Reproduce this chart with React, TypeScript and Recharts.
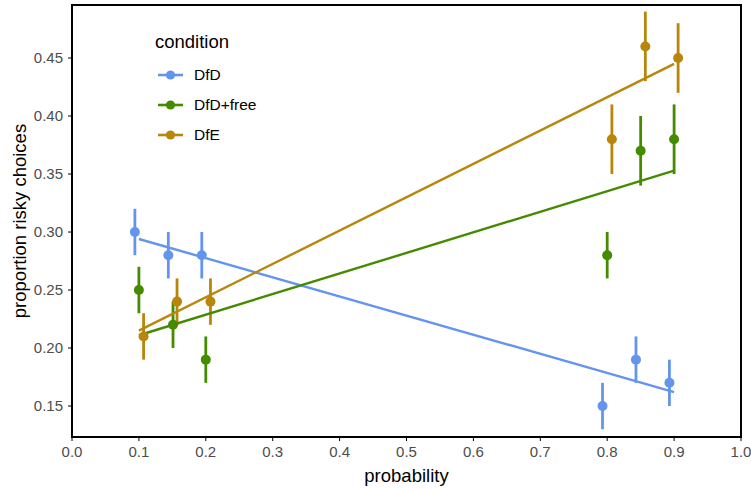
import {
  ComposedChart,
  ErrorBar,
  ReferenceArea,
  Scatter,
  XAxis,
  YAxis,
} from "recharts";

// Points (x jittered as in the original), proportion and half-width of error bars
const dfdX = [0.094, 0.144, 0.194, 0.793, 0.843, 0.893];
const dfdY = [0.3, 0.28, 0.28, 0.15, 0.19, 0.17];
const dfdErr = [0.02, 0.02, 0.02, 0.02, 0.02, 0.02];

const freeX = [0.1, 0.151, 0.2, 0.8, 0.85, 0.9];
const freeY = [0.25, 0.22, 0.19, 0.28, 0.37, 0.38];
const freeErr = [0.02, 0.02, 0.02, 0.02, 0.03, 0.03];

const dfeX = [0.107, 0.157, 0.207, 0.807, 0.857, 0.906];
const dfeY = [0.21, 0.24, 0.24, 0.38, 0.46, 0.45];
const dfeErr = [0.02, 0.02, 0.02, 0.03, 0.03, 0.03];

// Linear fit endpoints
const fitX = [0.1, 0.9];
const dfdFitY = [0.294, 0.162];
const freeFitY = [0.211, 0.353];
const dfeFitY = [0.215, 0.445];

const conditions = ["DfD", "DfD+free", "DfE"];
const colors = ["#6495ED", "#458B00", "#B8860B"];

const xTicks = [0, 0.1, 0.2, 0.3, 0.4, 0.5, 0.6, 0.7, 0.8, 0.9, 1.0];
const yTicks = [0.15, 0.2, 0.25, 0.3, 0.35, 0.4, 0.45];
const yDomain = [0.1233, 0.4957];

const FONT = "'Liberation Sans', Arial, Helvetica, sans-serif";

function toPoints(xs: number[], ys: number[], errs?: number[]) {
  return xs.map((x, i) => ({ x, y: ys[i], err: errs ? errs[i] : 0 }));
}

const pointSets = [
  toPoints(dfdX, dfdY, dfdErr),
  toPoints(freeX, freeY, freeErr),
  toPoints(dfeX, dfeY, dfeErr),
];
const fitSets = [
  toPoints(fitX, dfdFitY),
  toPoints(fitX, freeFitY),
  toPoints(fitX, dfeFitY),
];

function dot(color: string) {
  return (p: any) => <circle cx={p.cx} cy={p.cy} r={5} fill={color} />;
}

// legend drawn over the panel, like the ggplot inside legend
function LegendBox() {
  return (
    <div
      style={{
        position: "absolute",
        left: 0,
        top: 0,
        fontFamily: FONT,
        color: "#000",
      }}
    >
      <div
        style={{
          position: "absolute",
          left: 155,
          top: 32,
          height: 20,
          lineHeight: "20px",
          fontSize: 18.5,
          whiteSpace: "nowrap",
        }}
      >
        condition
      </div>
      {conditions.map((c, i) => (
        <div
          key={c}
          style={{
            position: "absolute",
            left: 157,
            top: 65 + i * 30,
            height: 20,
            display: "flex",
            alignItems: "center",
            whiteSpace: "nowrap",
          }}
        >
          <svg width={27} height={20} style={{ marginRight: 10 }}>
            <line x1={1} y1={10} x2={26} y2={10} stroke={colors[i]} strokeWidth={2.6} />
            <circle cx={13.5} cy={10} r={4.6} fill={colors[i]} />
          </svg>
          <span style={{ fontSize: 15.5, lineHeight: "20px" }}>{c}</span>
        </div>
      ))}
    </div>
  );
}

export default function App() {
  return (
    <div style={{ position: "relative", width: 751, height: 489, background: "#fff" }}>
      <style>{`body{margin:0}`}</style>
      <ComposedChart
        width={751}
        height={489}
        margin={{ top: 5, right: 10, bottom: 0, left: 0 }}
      >
        <XAxis
          type="number"
          dataKey="x"
          domain={[0, 1]}
          ticks={xTicks}
          tickFormatter={(v: number) => v.toFixed(1)}
          height={52}
          axisLine={{ stroke: "#000", strokeWidth: 2 }}
          tickLine={{ stroke: "#000" }}
          tickSize={4}
          tickMargin={5}
          tick={{ fill: "#4D4D4D", fontSize: 15, fontFamily: FONT }}
          interval={0}
          label={{
            value: "probability",
            position: "center",
            dy: 12,
            style: { fill: "#000", fontSize: 18.5, fontFamily: FONT },
          }}
        />
        <YAxis
          type="number"
          dataKey="y"
          domain={yDomain}
          ticks={yTicks}
          allowDataOverflow
          tickFormatter={(v: number) => v.toFixed(2)}
          width={72}
          axisLine={{ stroke: "#000", strokeWidth: 2 }}
          tickLine={{ stroke: "#000" }}
          tickSize={4}
          tickMargin={5}
          tick={{ fill: "#4D4D4D", fontSize: 15, fontFamily: FONT }}
          interval={0}
          label={{
            value: "proportion risky choices",
            position: "center",
            angle: -90,
            dx: -17,
            style: { fill: "#000", fontSize: 18.5, fontFamily: FONT, textAnchor: "middle" },
          }}
        />
        <ReferenceArea
          x1={0}
          x2={1}
          y1={yDomain[0]}
          y2={yDomain[1]}
          fill="none"
          stroke="#000"
          strokeWidth={2}
        />
        {fitSets.map((d, i) => (
          <Scatter
            key={`fit-${conditions[i]}`}
            data={d}
            fill={colors[i]}
            line={{ stroke: colors[i], strokeWidth: 2.4 }}
            shape={() => <g />}
            isAnimationActive={false}
          />
        ))}
        {pointSets.map((d, i) => (
          <Scatter
            key={conditions[i]}
            name={conditions[i]}
            data={d}
            fill={colors[i]}
            shape={dot(colors[i])}
            isAnimationActive={false}
          >
            <ErrorBar
              dataKey="err"
              direction="y"
              width={0}
              stroke={colors[i]}
              strokeWidth={2.8}
              isAnimationActive={false}
            />
          </Scatter>
        ))}
      </ComposedChart>
      <LegendBox />
    </div>
  );
}
